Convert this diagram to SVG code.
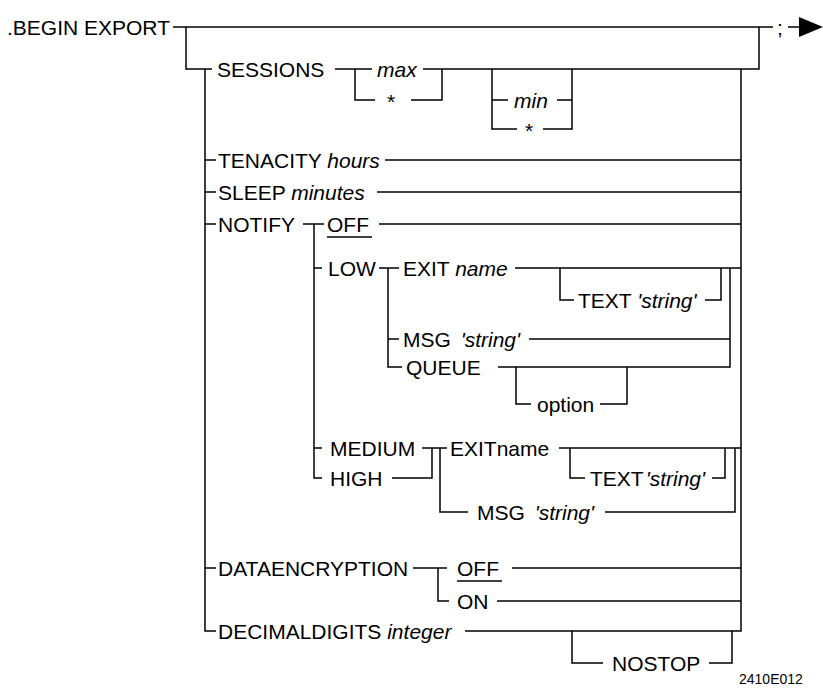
<svg xmlns="http://www.w3.org/2000/svg" width="823" height="689" viewBox="0 0 823 689">
<style>
text{font-family:"Liberation Sans",Arial,sans-serif;font-size:21px;fill:#000}
.i{font-style:italic}
.s{font-size:14px}
.c path{fill:none;stroke:#000;stroke-width:1.5}
.u{stroke:#000;stroke-width:1.5}
</style>
<rect width="823" height="689" fill="#fff"/>
<g class="c" id="connectors">
<path d="M173 27H773"/>
<path d="M788 27H800"/>
<path d="M186 27V69H212"/>
<path d="M205 69V631H216"/>
<path d="M205 160H216M205 192H216M205 224H216M205 568H216"/>
<path d="M335 69H372M423 69H759V27"/>
<path d="M355 69V100H375M411 100H442V69"/>
<path d="M492 69V129H517M543 129H572V69M492 100H508M557 100H572"/>
<path d="M465 631H741V69"/>
<path d="M385 160H741M377 192H741"/>
<path d="M303 224H324M379 224H741"/>
<path d="M314 224V478H322M314 268H322M314 448H322"/>
<path d="M379 268H399M388 268V367H402M388 339H399"/>
<path d="M515 268H741M560 268V300H574M705 300H721V268"/>
<path d="M730 268V367H498M529 339H730"/>
<path d="M516 367V404H531M600 404H627V367"/>
<path d="M422 448H447M432 448V478H392M440 448V512H468"/>
<path d="M559 448H741M570 448V478H585M712 478H725V448"/>
<path d="M735 448V512H605"/>
<path d="M413 568H447M438 568V601H449M512 568H741M497 601H741"/>
<path d="M572 631V663H603M709 663H732V631"/>
<polygon points="799,17 823,27 799,37" fill="#000" stroke="none"/>
</g>
<g id="begin"><text x="7" y="35">.BEGIN EXPORT</text></g>
<g id="end"><text x="777" y="35">;</text></g>
<g id="sessions"><text x="217" y="77">SESSIONS</text></g>
<g id="max"><text x="377" y="77" class="i">max</text></g>
<g id="max-star"><text x="387" y="109">*</text></g>
<g id="min"><text x="514" y="108" class="i">min</text></g>
<g id="min-star"><text x="525" y="138">*</text></g>
<g id="tenacity"><text x="218" y="168">TENACITY <tspan class="i">hours</tspan></text></g>
<g id="sleep"><text x="218" y="200">SLEEP <tspan class="i">minutes</tspan></text></g>
<g id="notify"><text x="218" y="232">NOTIFY</text></g>
<g id="notify-off"><text x="327" y="232">OFF</text><line class="u" x1="327" y1="237" x2="372" y2="237"/></g>
<g id="low"><text x="328" y="276">LOW</text></g>
<g id="low-exit"><text x="403" y="276">EXIT <tspan class="i">name</tspan></text></g>
<g id="low-text"><text x="578" y="308">TEXT <tspan class="i">'string'</tspan></text></g>
<g id="low-msg"><text x="403" y="347">MSG <tspan class="i" dx="4">'string'</tspan></text></g>
<g id="queue"><text x="406" y="375">QUEUE</text></g>
<g id="option"><text x="537" y="412">option</text></g>
<g id="medium"><text x="330" y="456">MEDIUM</text></g>
<g id="high"><text x="330" y="486">HIGH</text></g>
<g id="med-exit"><text x="450" y="456">EXITname</text></g>
<g id="med-text"><text x="590" y="486">TEXT<tspan class="i" dx="2">'string'</tspan></text></g>
<g id="med-msg"><text x="477" y="520">MSG <tspan class="i" dx="4">'string'</tspan></text></g>
<g id="dataencryption"><text x="218" y="576">DATAENCRYPTION</text></g>
<g id="de-off"><text x="457" y="576">OFF</text><line class="u" x1="457" y1="581" x2="502" y2="581"/></g>
<g id="de-on"><text x="457" y="609">ON</text></g>
<g id="decimaldigits"><text x="218" y="639">DECIMALDIGITS <tspan class="i">integer</tspan></text></g>
<g id="nostop"><text x="612" y="671">NOSTOP</text></g>
<g id="figid"><text x="739" y="684" class="s">2410E012</text></g>
</svg>
